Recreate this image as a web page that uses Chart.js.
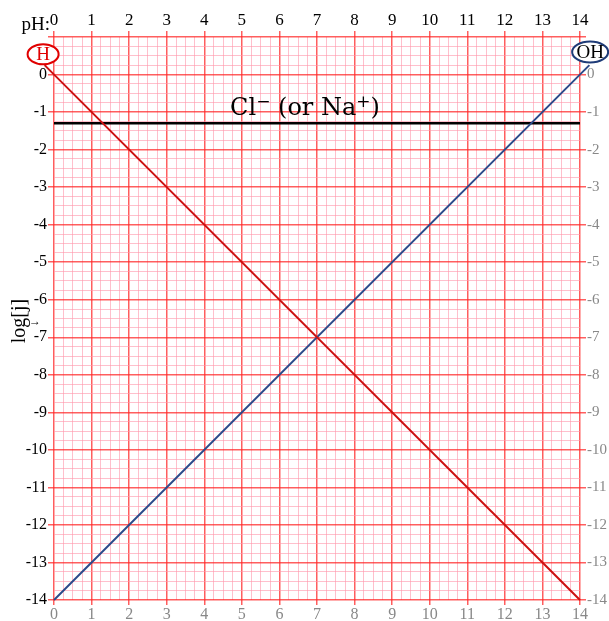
<!DOCTYPE html>
<html>
<head>
<meta charset="utf-8">
<script src="https://cdn.jsdelivr.net/npm/chart.js@4.4.0/dist/chart.umd.min.js"></script>
<style>
  html, body { margin: 0; padding: 0; background: #fff; }
  #wrap { width: 609px; height: 621px; }
</style>
</head>
<body>
<div id="wrap"><canvas id="chart"></canvas></div>
<script>
// pH axis and log concentration axis
const phTicks = [0, 1, 2, 3, 4, 5, 6, 7, 8, 9, 10, 11, 12, 13, 14];
const logTicks = [0, -1, -2, -3, -4, -5, -6, -7, -8, -9, -10, -11, -12, -13, -14];

// log[H+] = -pH, log[OH-] = pH - 14, log[Cl-] = -1.3
const hX = [-0.25, 14];
const hY = [0.25, -14];
const ohX = [0, 14.25];
const ohY = [-14, 0.25];
const clX = [0, 14];
const clY = [-1.3, -1.3];

// labels placed in data units
const hLabel = { text: 'H', x: -0.29, y: 0.54 };
const ohLabel = { text: 'OH', x: 14.27, y: 0.6 };
const clLabel = { x: 6.68, y: -1.08 };

const SERIF = '"Liberation Serif", "DejaVu Serif", serif';
const WIDE_SERIF = '"DejaVu Serif", "Liberation Serif", serif';

function pts(xs, ys) {
    return xs.map((v, i) => ({ x: v, y: ys[i] }));
}

const isMajor = v => Math.abs(v - Math.round(v)) < 1e-6;

function gridColor(ctx) {
    const v = ctx.tick ? ctx.tick.value : 0;
    return isMajor(v) ? 'rgba(255, 40, 40, 0.75)' : 'rgba(255, 150, 170, 0.6)';
}
function gridWidth(ctx) {
    const v = ctx.tick ? ctx.tick.value : 0;
    return isMajor(v) ? 1.5 : 1;
}
function tickColor(ctx) {
    const v = ctx.tick ? ctx.tick.value : 0;
    return isMajor(v) ? 'rgba(255, 40, 40, 0.75)' : 'rgba(0,0,0,0)';
}

function xLabel(v) {
    return isMajor(v) && phTicks.includes(Math.round(v)) ? String(Math.round(v)) : '';
}
function yLabel(v) {
    return isMajor(v) && logTicks.includes(Math.round(v)) ? String(Math.round(v)) : '';
}

function fixSize(prop, size) {
    return scale => { scale[prop] = size; };
}

const labelsPlugin = {
    id: 'labels',
    afterDraw(chart) {
        const ctx = chart.ctx;
        const x = chart.scales.x;
        const y = chart.scales.y;
        ctx.save();

        // H ellipse
        let px = x.getPixelForValue(hLabel.x);
        let py = y.getPixelForValue(hLabel.y);
        ctx.beginPath();
        ctx.ellipse(px, py, 15.5, 10, 0, 0, Math.PI * 2);
        ctx.fillStyle = '#fff';
        ctx.fill();
        ctx.lineWidth = 2;
        ctx.strokeStyle = '#e00000';
        ctx.stroke();
        ctx.fillStyle = '#e00000';
        ctx.font = '19px ' + SERIF;
        ctx.textAlign = 'center';
        ctx.textBaseline = 'middle';
        ctx.fillText(hLabel.text, px, py + 1);

        // OH ellipse
        px = x.getPixelForValue(ohLabel.x);
        py = y.getPixelForValue(ohLabel.y);
        ctx.beginPath();
        ctx.ellipse(px, py, 18, 10.5, 0, 0, Math.PI * 2);
        ctx.fillStyle = '#fff';
        ctx.fill();
        ctx.lineWidth = 2;
        ctx.strokeStyle = '#1f3c78';
        ctx.stroke();
        ctx.fillStyle = '#000';
        ctx.fillText(ohLabel.text, px, py + 1);

        // Cl- (or Na+) label with superscripts
        const parts = [
            { t: 'Cl', sup: false },
            { t: '\u2212', sup: true },
            { t: ' (or Na', sup: false },
            { t: '+', sup: true },
            { t: ')', sup: false }
        ];
        const big = '24px ' + WIDE_SERIF;
        const small = '17px ' + WIDE_SERIF;
        let total = 0;
        parts.forEach(p => {
            ctx.font = p.sup ? small : big;
            p.w = ctx.measureText(p.t).width;
            total += p.w;
        });
        let cx = x.getPixelForValue(clLabel.x) - total / 2;
        const base = y.getPixelForValue(clLabel.y);
        ctx.textAlign = 'left';
        ctx.textBaseline = 'alphabetic';
        ctx.fillStyle = '#000';
        parts.forEach(p => {
            ctx.font = p.sup ? small : big;
            ctx.fillText(p.t, cx, p.sup ? base - 8 : base);
            cx += p.w;
        });

        // pH: caption
        ctx.font = '19px ' + SERIF;
        ctx.textAlign = 'right';
        ctx.fillText('pH:', 50, 30);

        // small arrow next to the y title (drawn upright)
        ctx.font = '12px ' + SERIF;
        ctx.textAlign = 'center';
        ctx.textBaseline = 'middle';
        ctx.fillText('\u2192', 35, 322);

        // y title log[j]
        ctx.translate(20, 321);
        ctx.rotate(-Math.PI / 2);
        ctx.font = '20px ' + SERIF;
        ctx.fillText('log[j]', 0, 0);

        ctx.restore();
    }
};

new Chart(document.getElementById('chart'), {
    type: 'scatter',
    data: {
        datasets: [
            {
                label: 'H',
                data: pts(hX, hY),
                showLine: true,
                borderColor: '#cc1111',
                borderWidth: 2,
                pointRadius: 0,
                clip: false
            },
            {
                label: 'OH',
                data: pts(ohX, ohY),
                showLine: true,
                borderColor: '#2b4a8a',
                borderWidth: 2,
                pointRadius: 0,
                clip: false
            },
            {
                label: 'Cl',
                data: pts(clX, clY),
                showLine: true,
                borderColor: '#000',
                borderWidth: 2.5,
                pointRadius: 0,
                clip: false
            }
        ]
    },
    options: {
        responsive: true,
        maintainAspectRatio: false,
        animation: false,
        layout: { padding: 0 },
        plugins: {
            legend: { display: false },
            tooltip: { enabled: false }
        },
        scales: {
            x: {
                type: 'linear',
                position: 'bottom',
                min: 0,
                max: 14,
                afterFit: fixSize('height', 21),
                grid: { color: gridColor, lineWidth: gridWidth, tickColor: tickColor, tickLength: 5 },
                border: { display: false },
                ticks: {
                    stepSize: 0.25,
                    maxTicksLimit: 200,
                    autoSkip: false,
                    maxRotation: 0,
                    padding: 0,
                    color: '#888',
                    font: { family: SERIF, size: 16 },
                    callback: xLabel
                }
            },
            x2: {
                type: 'linear',
                position: 'top',
                min: 0,
                max: 14,
                afterFit: fixSize('height', 37),
                grid: { drawOnChartArea: false, color: tickColor, tickColor: tickColor, lineWidth: 1.5, tickLength: 6 },
                border: { display: false },
                ticks: {
                    stepSize: 0.25,
                    maxTicksLimit: 200,
                    autoSkip: false,
                    maxRotation: 0,
                    padding: 0,
                    color: '#000',
                    font: { family: SERIF, size: 17 },
                    callback: xLabel
                }
            },
            y: {
                type: 'linear',
                position: 'left',
                min: -14,
                max: 1,
                afterFit: fixSize('width', 54),
                grid: { color: gridColor, lineWidth: gridWidth, tickColor: tickColor, tickLength: 6 },
                border: { display: false },
                ticks: {
                    stepSize: 0.25,
                    maxTicksLimit: 200,
                    autoSkip: false,
                    padding: 1,
                    color: '#000',
                    font: { family: SERIF, size: 16 },
                    callback: yLabel
                }
            },
            y2: {
                type: 'linear',
                position: 'right',
                min: -14,
                max: 1,
                afterFit: fixSize('width', 29),
                grid: { drawOnChartArea: false, color: tickColor, tickColor: tickColor, lineWidth: 1.5, tickLength: 6 },
                border: { display: false },
                ticks: {
                    stepSize: 0.25,
                    maxTicksLimit: 200,
                    autoSkip: false,
                    padding: 1,
                    color: '#888',
                    font: { family: SERIF, size: 15 },
                    callback: yLabel
                }
            }
        }
    },
    plugins: [labelsPlugin]
});
</script>
</body>
</html>
